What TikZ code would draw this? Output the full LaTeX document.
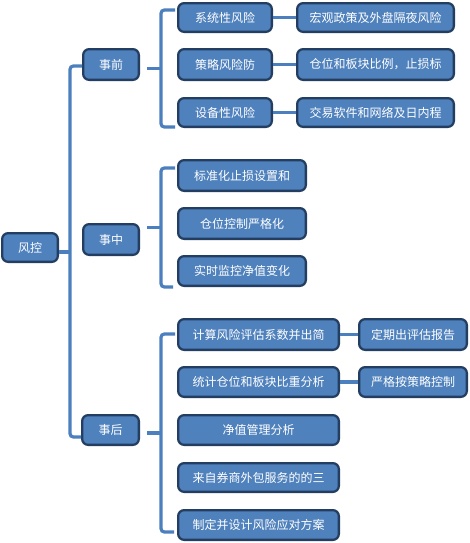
\documentclass[tikz,border=0pt]{standalone}
\usepackage{fontspec}
\setmainfont{Noto Sans CJK SC}
\usetikzlibrary{calc}
\definecolor{boxfill}{RGB}{79,129,189}
\definecolor{boxline}{RGB}{35,62,96}
\definecolor{linkcol}{RGB}{76,127,189}
\begin{document}
\begin{tikzpicture}[x=0.75pt,y=-0.75pt,
  bx/.style 2 args={draw=boxline, line width=1.7pt, fill=boxfill, text=white,
    rounded corners=4.5pt, inner sep=0pt, font=\fontsize{9pt}{11pt}\selectfont,
    minimum width=#1*0.75pt-1.7pt, minimum height=#2*0.75pt-1.7pt},
  conn/.style={draw=linkcol, line width=2.4pt, rounded corners=2.5pt}]
\useasboundingbox (0,0) rectangle (470,543);
% level 0 and 1
\node[bx={58}{31}] (root) at (30,247.5) {风控};
\node[bx={58}{33}] (pre)  at (111,64.5) {事前};
\node[bx={58}{33}] (mid)  at (111,239.5) {事中};
\node[bx={59}{32}] (post) at (110.5,430) {事后};
% 事前
\node[bx={96}{31}] (a1) at (225,17.5) {系统性风险};
\node[bx={96}{33}] (a2) at (225,64.5) {策略风险防};
\node[bx={96}{31}] (a3) at (225,112.5) {设备性风险};
\node[bx={159}{31}] (a1x) at (375.5,17.5) {宏观政策及外盘隔夜风险};
\node[bx={159}{33}] (a2x) at (375.5,64.5) {仓位和板块比例，止损标};
\node[bx={159}{31}] (a3x) at (375.5,112.5) {交易软件和网络及日内程};
% 事中
\node[bx={130}{33}] (b1) at (242,175.5) {标准化止损设置和};
\node[bx={130}{33}] (b2) at (242,223.5) {仓位控制严格化};
\node[bx={130}{32}] (b3) at (242,271) {实时监控净值变化};
% 事后
\node[bx={163}{33}] (c1) at (258.5,334.5) {计算风险评估系数并出简};
\node[bx={163}{32}] (c2) at (258.5,382) {统计仓位和板块比重分析};
\node[bx={163}{32}] (c3) at (258.5,430) {净值管理分析};
\node[bx={163}{31}] (c4) at (258.5,477.5) {来自券商外包服务的的三};
\node[bx={163}{32}] (c5) at (258.5,525) {制定并设计风险应对方案};
\node[bx={110}{33}] (c1x) at (413,334.5) {定期出评估报告};
\node[bx={110}{32}] (c2x) at (413,382) {严格按策略控制};
% bracket points
\coordinate (abr) at (161,68.5);
\coordinate (bbr) at (161,227.5);
\coordinate (cbr) at (161,433);
% trunk
\draw[conn] ($(pre.west)+(0,1.5)$) -- ++(-12,0) |- ($(post.west)+(0,7)$);
\draw[conn] ($(root.east)+(0,4.5)$) -- ++(11,0);
% brackets
\draw[conn] ($(a1.west)+(-2,-7.5)$) -| (abr) |- ($(a3.west)+(-2,14.5)$);
\draw[conn] (abr) -- ($(pre.east)+(7,4)$);
\draw[conn] ($(b1.west)+(-2,-7.5)$) -| (bbr) |- ($(b3.west)+(-4,16)$);
\draw[conn] (bbr) -- ($(mid.east)+(7,-12)$);
\draw[conn] ($(c1.west)+(-2,-0.5)$) -| (cbr) |- ($(c5.west)+(-3,7)$);
\draw[conn] (cbr) -- ($(post.east)+(7,3)$);
% level 3 links
\draw[conn] (a1) -- (a1x);
\draw[conn] (a2) -- (a2x);
\draw[conn] (a3) -- (a3x);
\draw[conn] (c1) -- (c1x);
\draw[conn] (c2) -- (c2x);
\end{tikzpicture}
\end{document}
